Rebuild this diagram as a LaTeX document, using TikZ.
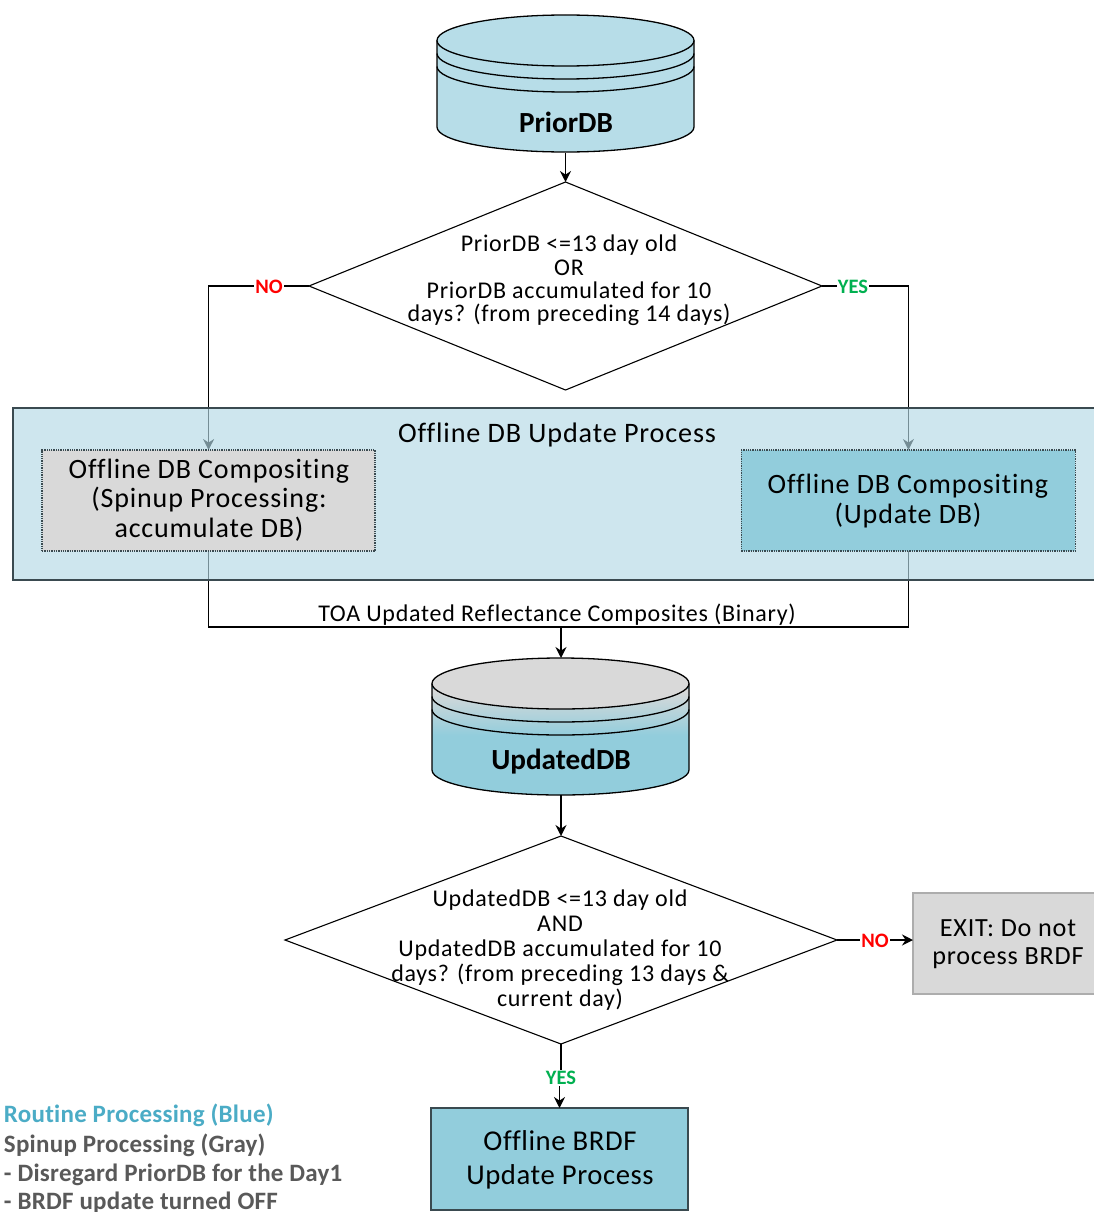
\documentclass[tikz,border=0pt]{standalone}
\usepackage{fontspec}
\setmainfont[Ligatures=CommonOff]{Carlito}
\usetikzlibrary{shapes.geometric,arrows.meta}
\definecolor{panelblue}{HTML}{B4DAE6}
\definecolor{dbblue}{HTML}{B7DDE8}
\definecolor{boxblue}{HTML}{92CDDC}
\definecolor{boxgray}{HTML}{D9D9D9}
\definecolor{edgegray}{HTML}{3A4A50}
\definecolor{noRed}{HTML}{FF0000}
\definecolor{yesGreen}{HTML}{00B050}
\definecolor{legendBlue}{HTML}{4BACC6}
\definecolor{legendGray}{HTML}{595959}
\tikzset{
  every node/.style={inner sep=0pt,outer sep=0pt,align=center},
  conn/.style={line width=1.4pt,black},
  arrowed/.style={conn,-{Stealth[length=11pt,width=11pt]}},
  decision/.style={diamond,draw=black,line width=1.1pt,fill=white,aspect=2.47},
  procbox/.style={rectangle,draw=edgegray,line width=1.3pt},
  dotbox/.style={rectangle,draw=edgegray,line width=1.3pt,densely dotted},
  dbframe/.style={rectangle,minimum width=257pt},
  yeslabel/.style={fill=white,text=yesGreen,font=\fontsize{20.5}{22}\selectfont\bfseries,inner xsep=1pt,inner ysep=1pt},
  nolabel/.style={fill=white,text=noRed,font=\fontsize{20.5}{22}\selectfont\bfseries,inner xsep=1pt,inner ysep=1pt},
  smalltext/.style={font=\fontsize{24}{25.2}\selectfont\addfontfeatures{LetterSpace=3}},
  bigtext/.style={font=\fontsize{28}{29.7}\selectfont\addfontfeatures{LetterSpace=3}},
  dbtext/.style={font=\fontsize{29.2}{31}\selectfont\bfseries},
  legend/.style={anchor=west,font=\fontsize{25}{27}\selectfont\bfseries\addfontfeatures{LetterSpace=1}}
}
% left, right, ellipse centre y, side end y, top colour, gradient start colour, gradient end colour
\newcommand{\dbshape}[7]{%
  \pgfmathsetmacro{\cxx}{(#1+#2)/2}%
  \path[fill=#7] (#1,#3) -- (#1,#4)
    .. controls (#1,#4+14) and (\cxx-70.7,#4+25) .. (\cxx,#4+25)
    .. controls (\cxx+70.7,#4+25) and (#2,#4+14) .. (#2,#4) -- (#2,#3) -- cycle;
  \shade[top color=#6,bottom color=#7] (#1,#3+6) rectangle (#2,#3+52);
  \draw[black,line width=1.3pt] (#1,#3) -- (#1,#4)
    .. controls (#1,#4+14) and (\cxx-70.7,#4+25) .. (\cxx,#4+25)
    .. controls (\cxx+70.7,#4+25) and (#2,#4+14) .. (#2,#4) -- (#2,#3);
  \foreach \dy in {13,26}{
    \draw[black,line width=1.3pt] (#1,#3+\dy) .. controls (#1,#3+\dy+14) and (\cxx-70.7,#3+\dy+25.5) .. (\cxx,#3+\dy+25.5)
      .. controls (\cxx+70.7,#3+\dy+25.5) and (#2,#3+\dy+14) .. (#2,#3+\dy);}
  \draw[fill=#5,draw=black,line width=1.3pt] (\cxx,#3) ellipse [x radius=128.5pt,y radius=25.5pt];
}
\begin{document}
\begin{tikzpicture}[x=1pt,y=-1pt]
\useasboundingbox (0,0) rectangle (1094,1212);
\clip (0,0) rectangle (1094,1212);
\fill[white] (0,0) rectangle (1094,1212);

% invisible frames of the cylinders
\node[dbframe,minimum height=138pt] (prior) at (565.5,84) {};
\node[dbframe,minimum height=137pt] (updated) at (561,726.5) {};

% decisions
\node[decision,minimum width=513pt,minimum height=208pt] (d1) at (565.5,286) {};
\node[decision,minimum width=552pt,minimum height=208pt] (d2) at (561,940) {};
\node[font=\fontsize{24}{23.4}\selectfont\addfontfeatures{LetterSpace=3}] (d1t) at (569,280.5) {PriorDB <=13 day old\\OR\\PriorDB accumulated for 10\\days? (from preceding 14 days)};
\node[smalltext] (d2t) at (560,950) {UpdatedDB <=13 day old\\AND\\UpdatedDB accumulated for 10\\days? (from preceding 13 days \&\\current day)};

% anchors of the composite boxes for the connectors
\coordinate (cl) at (208.6,500.5);
\coordinate (cr) at (908.4,500.5);
\node[minimum width=333pt,minimum height=101pt] (compLf) at (cl) {};
\node[minimum width=334pt,minimum height=101pt] (compRf) at (cr) {};

% connectors that pass under the translucent panel
\draw[arrowed] (d1.west) -| (compLf.north);
\draw[arrowed] (d1.east) -| (compRf.north);
\draw[conn] (compLf.south) |- (561,627) coordinate (join) -| (compRf.south);

% panel
\path[fill=panelblue,fill opacity=.65] (13,408) rectangle (1110,580);
\draw[draw=edgegray,line width=1.6pt] (13,408) rectangle (1110,580);
\node[font=\fontsize{28.2}{30}\selectfont\addfontfeatures{LetterSpace=3}] (paneltitle) at (557,435) {Offline DB Update Process};

\node[dotbox,fill=boxgray,minimum width=333pt,minimum height=101pt] (compL) at (cl) {};
\node[bigtext] (compLt) at (209,500) {Offline DB Compositing\\(Spinup Processing:\\accumulate DB)};
\node[dotbox,fill=boxblue,minimum width=334pt,minimum height=101pt] (compR) at (cr) {};
\node[bigtext] (compRt) at (908,501) {Offline DB Compositing\\(Update DB)};

% cylinders
\dbshape{437}{694}{40.5}{127}{dbblue}{dbblue}{dbblue}
\node[dbtext] (priorlabel) at (566,122) {PriorDB};
\dbshape{432}{689}{683.5}{770}{boxgray}{boxgray}{boxblue}
\node[dbtext] (updatedlabel) at (561,762) {UpdatedDB};

% other boxes
\node[rectangle,draw=black!32,line width=1.6pt,fill=boxgray,minimum width=182pt,minimum height=101pt] (exit) at (1004,943.5) {};
\node[font=\fontsize{26.2}{28}\selectfont\addfontfeatures{LetterSpace=3}] (exitt) at (1008,944) {EXIT: Do not\\process BRDF};
\node[procbox,fill=boxblue,minimum width=257pt,minimum height=102pt] (brdf) at (559.5,1159) {};
\node[font=\fontsize{28.7}{34.5}\selectfont\addfontfeatures{LetterSpace=2}] (brdft) at (560,1160) {Offline BRDF\\Update Process};

% labels
\node[smalltext] (toa) at (557,614.5) {TOA Updated Reflectance Composites (Binary)};

% remaining connectors
\draw[arrowed] (prior.south) -- (d1.north);
\draw[arrowed] (join) -- (updated.north);
\draw[arrowed] (updated.south) -- (d2.north);
\draw[arrowed] (d2.east) -- (d2.east -| exit.west);
\coordinate (ymid) at (561,1078);
\draw[arrowed] (d2.south) -- (d2.south |- ymid) -- (brdf.north |- ymid) -- (brdf.north);

\node[nolabel] (no1) at (269,287) {NO};
\node[yeslabel] (yes1) at (853,287) {YES};
\node[nolabel] (no2) at (875,941) {NO};
\node[yeslabel] (yes2) at (ymid) {YES};

% legend
\node[legend,text=legendBlue] (lg1) at (4,1115) {Routine Processing (Blue)};
\node[legend,text=legendGray] (lg2) at (4,1145) {Spinup Processing (Gray)};
\node[legend,text=legendGray] (lg3) at (4,1175) {- Disregard PriorDB for the Day1};
\node[legend,text=legendGray] (lg4) at (4,1203) {- BRDF update turned OFF};
\end{tikzpicture}
\end{document}
